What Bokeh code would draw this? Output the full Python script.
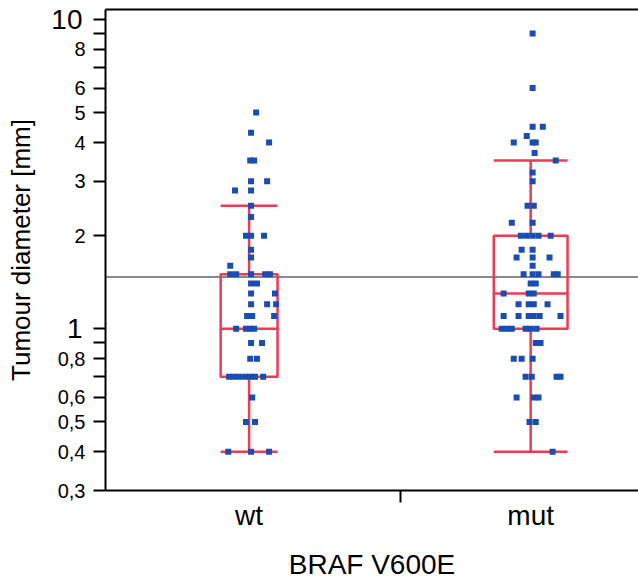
from bokeh.plotting import figure
from bokeh.models import Range1d, FixedTicker, Span, LogAxis, LinearAxis
from bokeh.embed import file_html
from bokeh.resources import INLINE

# ---------------- data ----------------
categories = ["wt", "mut"]

# individual tumour diameters (mm) and horizontal jitter (fraction of category spacing)
wt_values = [5.0, 4.3, 4.0, 3.5, 3.5, 3.0, 3.0, 2.8, 2.8, 2.5, 2.3,
             2.0, 2.0, 2.0, 1.8, 1.7, 1.6,
             1.5, 1.5, 1.5, 1.5, 1.5, 1.4, 1.4, 1.3, 1.3,
             1.2, 1.2, 1.2, 1.1, 1.1, 1.1, 1.0, 1.0, 1.0, 1.0,
             0.9, 0.9, 0.8, 0.8,
             0.7, 0.7, 0.7, 0.7, 0.7, 0.7, 0.7, 0.6, 0.5, 0.5, 0.4, 0.4, 0.4]
wt_jitter = [0.025, 0.007, 0.071, 0.004, 0.018, 0.007, 0.064, -0.05, 0.007, 0.007, 0.007,
             -0.011, 0.007, 0.053, 0.007, 0.007, -0.067,
             -0.067, -0.046, 0.007, 0.057, 0.074, 0.007, 0.028, 0.007, 0.092,
             0.007, 0.064, 0.096, -0.007, 0.011, 0.089, -0.046, -0.011, 0.004, 0.018,
             0.007, 0.046, 0.004, 0.028,
             -0.071, -0.053, -0.035, -0.014, 0.004, 0.021, 0.05, 0.011, -0.011, 0.021, -0.074, 0.007, 0.071]

mut_values = [9.0, 6.0, 4.5, 4.5, 4.2, 4.0, 4.0, 4.0, 3.7, 3.5, 3.2, 3.0,
              2.5, 2.5, 2.2, 2.2, 2.0, 2.0, 2.0, 2.0, 2.0, 1.8, 1.8,
              1.7, 1.7, 1.7, 1.6, 1.5, 1.5, 1.5, 1.5, 1.5, 1.4, 1.4,
              1.3, 1.3, 1.3, 1.2, 1.2, 1.2, 1.2,
              1.1, 1.1, 1.1, 1.1, 1.1, 1.1, 1.0, 1.0, 1.0, 1.0, 1.0, 1.0,
              0.9, 0.9, 0.8, 0.8, 0.8, 0.7, 0.7, 0.7, 0.7, 0.6, 0.6, 0.6, 0.5, 0.5, 0.4]
mut_jitter = [0.007, 0.007, 0.007, 0.043, -0.014, -0.06, 0.007, 0.018, 0.014, 0.089, 0.007, 0.007,
              -0.011, 0.011, -0.067, 0.007, -0.035, -0.014, 0.007, 0.028, 0.071, -0.032, 0.007,
              -0.05, 0.007, 0.067, 0.007, -0.025, 0.007, 0.028, 0.082, 0.096, 0.0, 0.018,
              -0.096, -0.007, 0.011, -0.043, -0.007, 0.011, 0.06,
              -0.096, -0.043, -0.007, 0.011, 0.032, 0.106, -0.103, -0.085, -0.067, -0.018, 0.0, 0.021,
              0.018, 0.035, -0.06, -0.032, 0.007, -0.018, 0.004, 0.092, 0.106, -0.05, 0.011, 0.028,
              -0.004, 0.018, 0.078]

# box-plot statistics (mm)
box_q1 = [0.7, 1.0]
box_median = [1.0, 1.3]
box_q3 = [1.5, 2.0]
whisker_low = [0.4, 0.4]
whisker_high = [2.5, 3.5]
box_half_width = [0.101, 0.131]   # box width grows with group size

reference_line = 1.47

y_ticks = [0.3, 0.4, 0.5, 0.6, 0.7, 0.8, 0.9, 1, 2, 3, 4, 5, 6, 7, 8, 9, 10]
y_small_labels = {0.3: "0,3", 0.4: "0,4", 0.5: "0,5", 0.6: "0,6", 0.8: "0,8",
                  2: "2", 3: "3", 4: "4", 5: "5", 6: "6", 8: "8"}
y_big_labels = {1: "1", 10: "10"}

x_title = "BRAF V600E"
y_title = "Tumour diameter [mm]"

# ---------------- layout ----------------
X_START, X_END = 0.49, 2.383
Y_MIN, Y_MAX = 0.3, 10.77
CAT_BOUNDARY = 1.538
positions = [1, 2]

FONT = "Liberation Sans"
RED = "#EE3A52"
BLUE = "#1A4DB3"

p = figure(width=638, height=582,
           x_range=Range1d(X_START, X_END), y_range=Range1d(Y_MIN, Y_MAX),
           y_axis_type="log", output_backend="svg", toolbar_location=None,
           min_border_left=105, min_border_right=0, min_border_top=9, min_border_bottom=92)
p.outline_line_color = None
p.xgrid.visible = False
p.ygrid.visible = False
p.background_fill_color = "white"
p.border_fill_color = "white"

# reference line
p.add_layout(Span(location=reference_line, dimension="width", line_color="#8A8A8A",
                  line_width=2, level="underlay"))

# boxes
lefts = [c - w for c, w in zip(positions, box_half_width)]
rights = [c + w for c, w in zip(positions, box_half_width)]
p.segment(x0=positions, x1=positions, y0=whisker_low, y1=box_q1, line_color=RED, line_width=2.5)
p.segment(x0=positions, x1=positions, y0=box_q3, y1=whisker_high, line_color=RED, line_width=2.5)
p.segment(x0=lefts, x1=rights, y0=whisker_low, y1=whisker_low, line_color=RED, line_width=2.5)
p.segment(x0=lefts, x1=rights, y0=whisker_high, y1=whisker_high, line_color=RED, line_width=2.5)
p.quad(left=lefts, right=rights, bottom=box_q1, top=box_q3, fill_color=None,
       line_color=RED, line_width=2.5)
p.segment(x0=lefts, x1=rights, y0=box_median, y1=box_median, line_color=RED, line_width=2.5)

# points
p.scatter(x=[positions[0] + j for j in wt_jitter], y=wt_values, marker="square", size=6,
          fill_color=BLUE, line_color=None)
p.scatter(x=[positions[1] + j for j in mut_jitter], y=mut_values, marker="square", size=6,
          fill_color=BLUE, line_color=None)

# x axis (bottom)
xa = p.below[0]
xa.ticker = FixedTicker(ticks=positions, minor_ticks=[CAT_BOUNDARY])
xa.major_label_overrides = {pos: lab for pos, lab in zip(positions, categories)}
xa.major_tick_out = 0
xa.major_tick_in = 0
xa.minor_tick_out = 12
xa.minor_tick_in = 0
xa.minor_tick_line_color = "black"
xa.minor_tick_line_width = 2
xa.axis_line_color = "black"
xa.axis_line_width = 2
xa.major_label_standoff = -3
xa.major_label_text_font = FONT
xa.major_label_text_font_size = "28px"
xa.major_label_text_color = "black"
xa.axis_label = x_title
xa.axis_label_text_font = FONT
xa.axis_label_text_font_size = "28px"
xa.axis_label_text_font_style = "normal"
xa.axis_label_text_color = "black"
xa.axis_label_standoff = 15

# top border as an empty axis
top_axis = LinearAxis(ticker=FixedTicker(ticks=[], minor_ticks=[]), major_tick_out=0, major_tick_in=0,
                      minor_tick_out=0, minor_tick_in=0, major_label_text_font_size="0px",
                      axis_line_color="black", axis_line_width=2, major_label_standoff=0)
p.add_layout(top_axis, "above")

# y axis (ticks + small labels)
ya = p.left[0]
ya.ticker = FixedTicker(ticks=y_ticks, minor_ticks=[])
ya.major_label_overrides = {t: y_small_labels.get(t, "") for t in y_ticks}
ya.major_tick_out = 12
ya.major_tick_in = 0
ya.major_tick_line_width = 2
ya.major_tick_line_color = "black"
ya.minor_tick_out = 0
ya.minor_tick_in = 0
ya.axis_line_color = "black"
ya.axis_line_width = 2
ya.major_label_standoff = 8
ya.major_label_text_font = FONT
ya.major_label_text_font_size = "20px"
ya.major_label_text_color = "black"

# second y axis holding the large labels (1, 10) and the title
big_axis = LogAxis(ticker=FixedTicker(ticks=list(y_big_labels.keys()), minor_ticks=[]),
                   major_label_overrides=dict(y_big_labels),
                   axis_line_color=None, major_tick_line_color=None, minor_tick_line_color=None,
                   major_tick_out=0, major_tick_in=0, minor_tick_out=0, minor_tick_in=0,
                   major_label_standoff=-28, major_label_text_font=FONT,
                   major_label_text_font_size="28px", major_label_text_color="black",
                   axis_label=y_title, axis_label_text_font=FONT,
                   axis_label_text_font_size="26px", axis_label_text_font_style="normal",
                   axis_label_text_color="black", axis_label_standoff=12)
p.add_layout(big_axis, "left")

open("out.html", "w").write(file_html(p, INLINE))
